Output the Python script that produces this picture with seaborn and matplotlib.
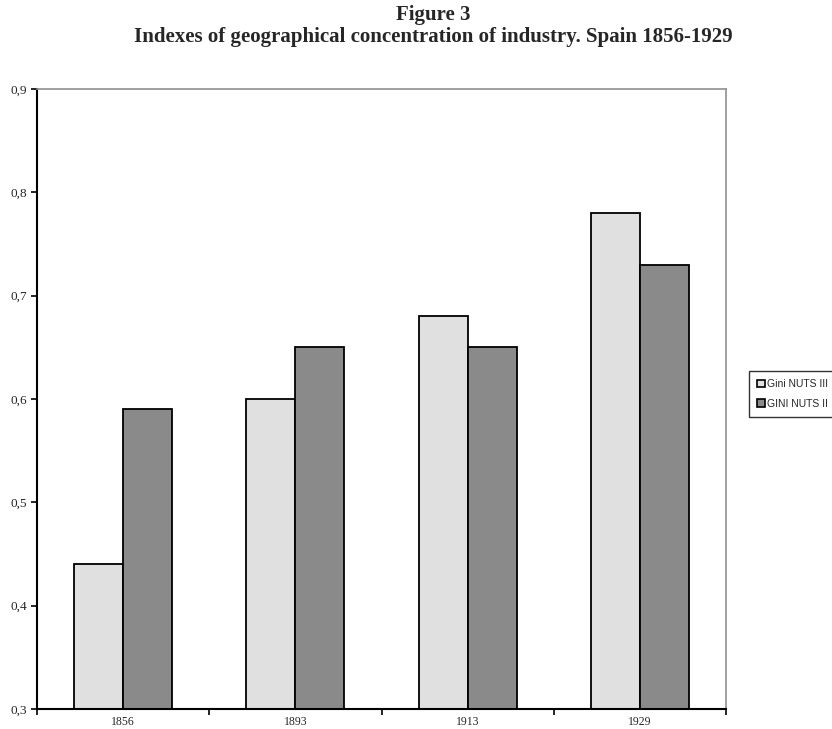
import matplotlib
matplotlib.use("Agg")
import matplotlib.pyplot as plt
import seaborn as sns
import pandas as pd
from matplotlib.ticker import FixedLocator, FuncFormatter

sns.set_style("white")
plt.rcParams["font.family"] = ["Liberation Serif", "DejaVu Serif"]

years = ["1856", "1893", "1913", "1929"]
gini_nuts3 = [0.44, 0.60, 0.68, 0.78]
gini_nuts2 = [0.59, 0.65, 0.65, 0.73]
series = ["Gini NUTS III", "GINI NUTS II"]
colors = ["#e0e0e0", "#8a8a8a"]

df = pd.DataFrame({
    "Year": years * 2,
    "Value": gini_nuts3 + gini_nuts2,
    "Series": [series[0]] * 4 + [series[1]] * 4,
})

fig = plt.figure(figsize=(8.32, 7.29), dpi=100)
ax = fig.add_axes([37 / 832, 20 / 729, 689 / 832, 620 / 729])

sns.barplot(data=df, x="Year", y="Value", hue="Series", palette=colors,
            width=0.57, edgecolor="black", linewidth=1.3, ax=ax, legend=True)

ax.set_ylim(0.3, 0.9)
ax.set_xlim(-0.5, 3.5)
ax.set_yticks([0.3, 0.4, 0.5, 0.6, 0.7, 0.8, 0.9])
ax.yaxis.set_major_formatter(FuncFormatter(lambda v, p: f"{v:.1f}".replace(".", ",")))
ax.xaxis.set_minor_locator(FixedLocator([-0.5, 0.5, 1.5, 2.5, 3.5]))
ax.tick_params(axis="x", which="major", bottom=True, length=0, labelsize=8.5, pad=5)
ax.tick_params(axis="x", which="minor", bottom=True, length=4, width=1.2,
               color="black", direction="out")
ax.tick_params(axis="y", left=True, length=4, width=1.2, color="black",
               direction="out", labelsize=9.5, pad=3)
ax.set_xlabel("")
ax.set_ylabel("")

for side in ["left", "bottom"]:
    ax.spines[side].set_color("black")
    ax.spines[side].set_linewidth(1.5)
for side in ["top", "right"]:
    ax.spines[side].set_color("#909090")
    ax.spines[side].set_linewidth(1.2)

leg = ax.legend(loc="upper left", bbox_to_anchor=(749 / 832, 1 - 371 / 729),
                bbox_transform=fig.transFigure, frameon=True, fancybox=False,
                prop={"family": "Liberation Sans", "size": 7.5},
                handlelength=0.7, handleheight=0.7, handletextpad=0.2,
                borderpad=0.8, labelspacing=0.9, borderaxespad=0)
leg.get_frame().set_edgecolor("black")
leg.get_frame().set_linewidth(1.0)
for h in leg.legend_handles:
    h.set_edgecolor("black")
    h.set_linewidth(1.2)

fig.text(433 / 832, 1 - 15 / 729, "Figure 3", ha="center", va="center",
         fontsize=15, fontweight="bold")
fig.text(433 / 832, 1 - 37 / 729,
         "Indexes of geographical concentration of industry. Spain 1856-1929",
         ha="center", va="center", fontsize=15, fontweight="bold")

fig.savefig("out.png", dpi=100)
